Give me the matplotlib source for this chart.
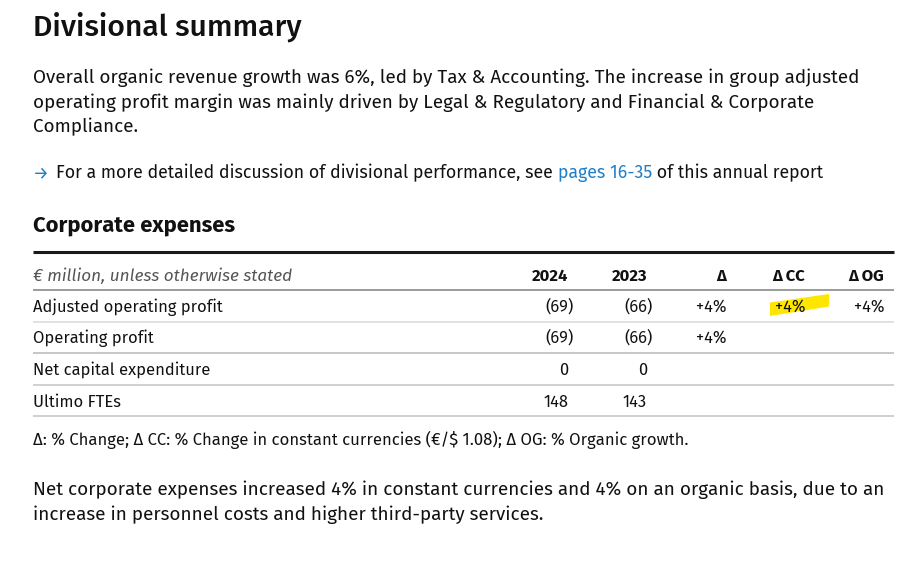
import matplotlib
matplotlib.use("Agg")
import matplotlib.pyplot as plt
from matplotlib.patches import Polygon

# ---------------- data ----------------
title = "Divisional summary"
intro_lines = [
    "Overall organic revenue growth was 6%, led by Tax & Accounting. The increase in group adjusted",
    "operating profit margin was mainly driven by Legal & Regulatory and Financial & Corporate",
    "Compliance.",
]
ref_pre = "For a more detailed discussion of divisional performance, see "
ref_link = "pages 16-35"
ref_post = " of this annual report"
section = "Corporate expenses"
unit_label = "€ million, unless otherwise stated"
columns = ["2024", "2023", "Δ", "Δ CC", "Δ OG"]
row_labels = ["Adjusted operating profit", "Operating profit", "Net capital expenditure", "Ultimo FTEs"]
col_2024 = ["(69)", "(69)", "0", "148"]
col_2023 = ["(66)", "(66)", "0", "143"]
col_delta = ["+4%", "+4%", "", ""]
col_cc = ["+4%", "", "", ""]
col_og = ["+4%", "", "", ""]
footnote = "Δ: % Change; Δ CC: % Change in constant currencies (€/$ 1.08); Δ OG: % Organic growth."
outro_lines = [
    "Net corporate expenses increased 4% in constant currencies and 4% on an organic basis, due to an",
    "increase in personnel costs and higher third-party services.",
]

# ---------------- figure ----------------
W, H = 921, 586
fig = plt.figure(figsize=(W / 100, H / 100), dpi=100)
ax = fig.add_axes([0, 0, 1, 1])
ax.set_xlim(0, W)
ax.set_ylim(H, 0)
ax.axis("off")
fig.canvas.draw()
renderer = fig.canvas.get_renderer()

FAM = ["Fira Sans", "Noto Sans", "DejaVu Sans"]
INK = "#111111"
BLUE = "#1f7fc8"


def fit(text, target, **kw):
    t = ax.text(0, 0, text, fontsize=10, family=FAM, **kw)
    w = t.get_window_extent(renderer).width
    t.remove()
    return 10 * target / w


L = 33
title_fs = fit(title, 270, weight="medium")
body_fs = fit(intro_lines[0], 823)
ref_fs = fit(ref_pre + ref_link + ref_post, 764)
bold_fs = fit(section, 202, weight="bold")
ital_fs = fit(unit_label, 258, style="italic")
row_fs = fit(row_labels[0], 189)
foot_fs = fit(footnote, 654)
outro_fs = fit(outro_lines[0], 847)

ax.text(L, 36, title, fontsize=title_fs, family=FAM, weight="medium", color=INK, va="baseline")

for i, line in enumerate(intro_lines):
    ax.text(L, 83 + i * 24.5, line, fontsize=body_fs, family=FAM, color=INK, va="baseline")

# reference line with arrow + link
ax.text(L, 178, "→", fontsize=ref_fs, family=FAM, color=BLUE, va="baseline")
x = 56
for txt, col in [(ref_pre, INK), (ref_link, BLUE), (ref_post, INK)]:
    t = ax.text(x, 178, txt, fontsize=ref_fs, family=FAM, color=col, va="baseline")
    x += t.get_window_extent(renderer).width

ax.text(L, 232, section, fontsize=bold_fs, family=FAM, weight="bold", color=INK, va="baseline")

# table
R = 894
ax.plot([L, R], [252, 252], color="#1a1a1a", lw=2.2, solid_capstyle="butt")
ax.plot([L, R], [290, 290], color="#8a8a8a", lw=1.2, solid_capstyle="butt")
for yl, c in zip([322, 353, 385, 416], ["#dcdcdc", "#bdbdbd", "#c8c8c8", "#c8c8c8"]):
    ax.plot([L, R], [yl, yl], color=c, lw=1.2, solid_capstyle="butt")

col_right = [568, 647, 726, 805, 884]
ax.text(L, 281, unit_label, fontsize=ital_fs, family=FAM, style="italic", color="#555555", va="baseline")
for c, xr in zip(columns, col_right):
    ax.text(xr, 281, c, fontsize=row_fs, family=FAM, weight="bold", color=INK, va="baseline", ha="right")

# yellow highlight stroke behind the CC value
ax.add_patch(Polygon([[770, 302.5], [829, 294], [829, 306.5], [770, 316]], closed=True,
                     facecolor="#ffe600", edgecolor="none", zorder=0))

row_base = [312, 343, 375, 407]
cols_data = [col_2024, col_2023, col_delta, col_cc, col_og]
for r, (lab, yb) in enumerate(zip(row_labels, row_base)):
    ax.text(L, yb, lab, fontsize=row_fs, family=FAM, color=INK, va="baseline")
    for vals, xr in zip(cols_data, col_right):
        v = vals[r]
        if not v:
            continue
        off = 5.5 if v.endswith(")") else 0
        ax.text(xr + off, yb, v, fontsize=row_fs, family=FAM, color=INK, va="baseline", ha="right", zorder=2)

ax.text(L, 445, footnote, fontsize=foot_fs, family=FAM, color=INK, va="baseline")

for i, line in enumerate(outro_lines):
    ax.text(L, 495 + i * 25, line, fontsize=outro_fs, family=FAM, color=INK, va="baseline")

fig.savefig("out.png", dpi=100)
